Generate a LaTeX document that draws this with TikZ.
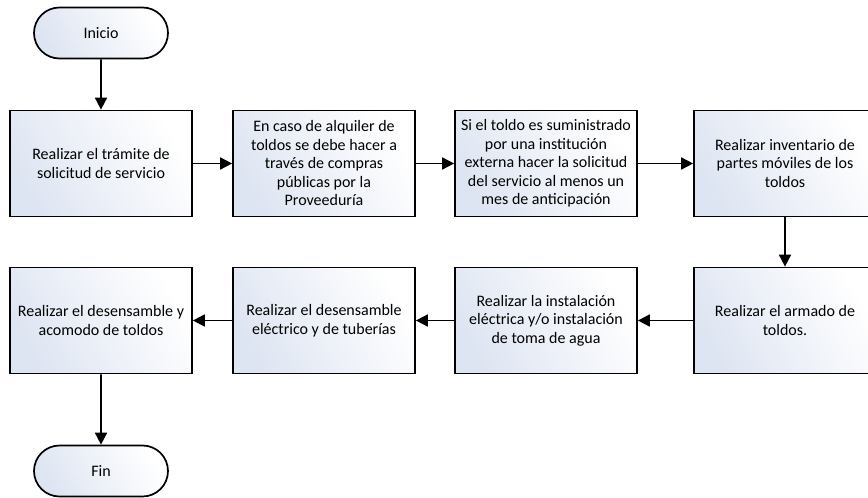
\documentclass[tikz,border=0pt]{standalone}
\usepackage{fontspec}
\setmainfont{Carlito}
\usetikzlibrary{arrows.meta,shapes.misc}
\definecolor{boxtint}{RGB}{222,229,242}
\tikzset{
  fillgrad/.style={left color=boxtint, right color=white, shading angle=120},
  procbox/.style={draw=black, line width=1.7pt, fillgrad, minimum width=182pt, minimum height=106pt,
    inner sep=0pt, align=center, font=\fontsize{16}{18.5}\selectfont},
  term/.style={draw=black, line width=1.7pt, fillgrad, rounded rectangle, minimum width=134pt,
    minimum height=51pt, inner sep=0pt, font=\fontsize{16}{18.5}\selectfont},
  conn/.style={line width=1.7pt, -{Triangle[length=12pt,width=12pt]}}
}
\begin{document}
\begin{tikzpicture}[x=1pt,y=-1pt]
\useasboundingbox (0,0) rectangle (868,498);
\clip (0,0) rectangle (868,498);
\node[term] (inicio) at (101,33) {Inicio};
\node[procbox] (b1) at (101,163.5) {Realizar el trámite de\\solicitud de servicio};
\node[procbox] (b2) at (324,163.5) {En caso de alquiler de\\toldos se debe hacer a\\través de compras\\públicas por la\\Proveeduría};
\node[procbox] (b3) at (546,163.5) {Si el toldo es suministrado\\por una institución\\externa hacer la solicitud\\del servicio al menos un\\mes de anticipación};
\node[procbox] (b4) at (785,163.5) {Realizar inventario de\\partes móviles de los\\toldos};
\node[procbox] (b5) at (785,320.5) {Realizar el armado de\\toldos.};
\node[procbox] (b6) at (546,320.5) {Realizar la instalación\\eléctrica y/o instalación\\de toma de agua};
\node[procbox] (b7) at (324,320.5) {Realizar el desensamble\\eléctrico y de tuberías};
\node[procbox] (b8) at (101,320.5) {Realizar el desensamble y\\acomodo de toldos};
\node[term] (fin) at (101,471) {Fin};
\draw[conn] (inicio) -- (b1);
\draw[conn] (b1) -- (b2);
\draw[conn] (b2) -- (b3);
\draw[conn] (b3) -- (b4);
\draw[conn] (b4) -- (b5);
\draw[conn] (b5) -- (b6);
\draw[conn] (b6) -- (b7);
\draw[conn] (b7) -- (b8);
\draw[conn] (b8) -- (fin);
\end{tikzpicture}
\end{document}
